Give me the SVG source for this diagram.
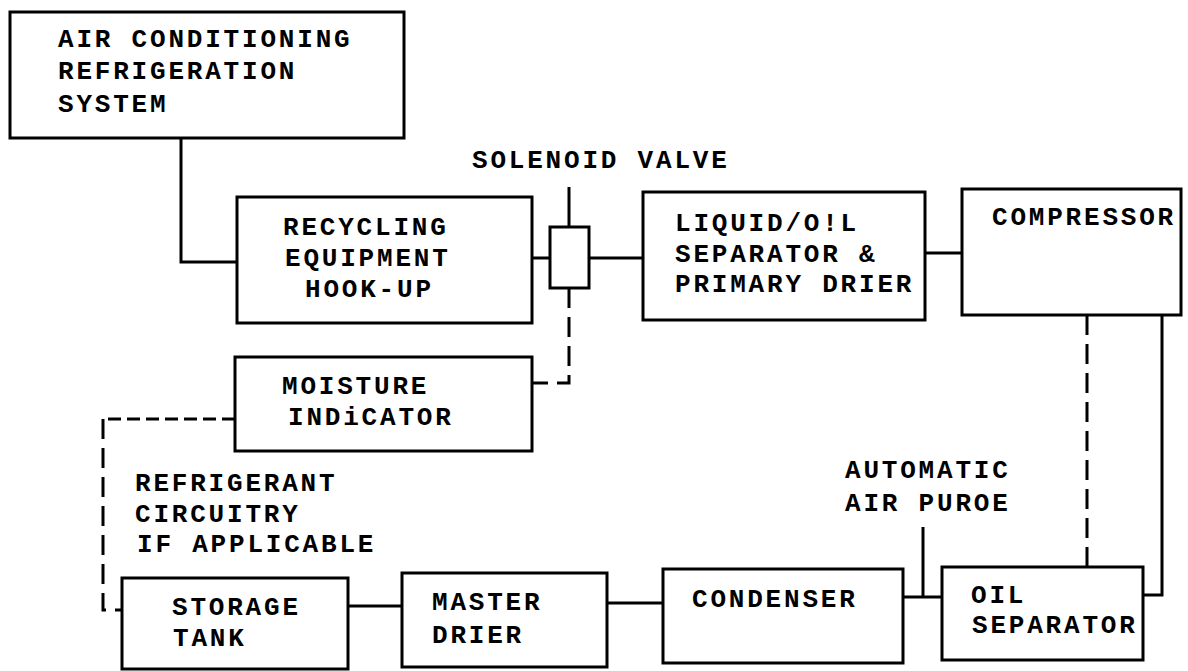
<svg xmlns="http://www.w3.org/2000/svg" width="1188" height="671" viewBox="0 0 1188 671">
<style>
.box{fill:none;stroke:#000;stroke-width:3}
.ln{fill:none;stroke:#000;stroke-width:3}
.dash{fill:none;stroke:#000;stroke-width:3;stroke-dasharray:20 9}
.dashs{fill:none;stroke:#000;stroke-width:3;stroke-dasharray:13 6}
text{font-family:"Liberation Mono","Courier New",monospace;font-weight:bold;font-size:26px;letter-spacing:2.8px;fill:#000}
</style>
<rect width="1188" height="671" fill="#fff"/>
<g id="connectors">
<path class="ln" d="M181 138 V262 H237"/>
<path class="ln" d="M532 258 H550"/>
<path class="ln" d="M589 258 H643"/>
<path class="ln" d="M569 187 V227"/>
<path class="dash" d="M569 288 V383 H532"/>
<path class="ln" d="M925 253 H962"/>
<path class="dashs" d="M235 419 H103"/>
<path class="dash" d="M103 419 V610 H122"/>
<path class="ln" d="M348 606 H402"/>
<path class="ln" d="M607 603 H663"/>
<path class="ln" d="M903 597 H942"/>
<path class="ln" d="M923 527 V597"/>
<path class="dash" d="M1087 315 V567"/>
<path class="ln" d="M1162 315 V595 H1143"/>
</g>
<g id="ac-system">
<rect class="box" x="10" y="12" width="394" height="126"/>
<text x="58" y="47">AIR CONDITIONING</text>
<text x="58" y="79">REFRIGERATION</text>
<text x="58" y="112">SYSTEM</text>
</g>
<g id="recycling">
<rect class="box" x="237" y="197" width="295" height="126"/>
<text x="283" y="235">RECYCLING</text>
<text x="285" y="266">EQUIPMENT</text>
<text x="305" y="297">HOOK-UP</text>
</g>
<g id="solenoid-valve">
<rect class="box" x="550" y="227" width="39" height="61"/>
<text x="472" y="168">SOLENOID VALVE</text>
</g>
<g id="liquid-oil-separator">
<rect class="box" x="643" y="192" width="282" height="128"/>
<text x="675" y="231">LIQUID/O!L</text>
<text x="675" y="262">SEPARATOR &amp;</text>
<text x="675" y="292">PRIMARY DRIER</text>
</g>
<g id="compressor">
<rect class="box" x="962" y="189" width="219" height="126"/>
<text x="992" y="225">COMPRESSOR</text>
</g>
<g id="moisture-indicator">
<rect class="box" x="235" y="357" width="297" height="94"/>
<text x="282" y="394">MOISTURE</text>
<text x="288" y="425">INDiCATOR</text>
</g>
<g id="refrigerant-label">
<text x="135" y="491">REFRIGERANT</text>
<text x="135" y="522">CIRCUITRY</text>
<text x="137" y="552">IF APPLICABLE</text>
</g>
<g id="air-purge">
<text x="845" y="478">AUTOMATIC</text>
<text x="845" y="511">AIR PUROE</text>
</g>
<g id="storage-tank">
<rect class="box" x="122" y="578" width="226" height="91"/>
<text x="172" y="615">STORAGE</text>
<text x="173" y="646">TANK</text>
</g>
<g id="master-drier">
<rect class="box" x="402" y="573" width="205" height="94"/>
<text x="432" y="610">MASTER</text>
<text x="432" y="643">DRIER</text>
</g>
<g id="condenser">
<rect class="box" x="663" y="569" width="240" height="94"/>
<text x="692" y="607">CONDENSER</text>
</g>
<g id="oil-separator">
<rect class="box" x="942" y="567" width="201" height="93"/>
<text x="971" y="603">OIL</text>
<text x="972" y="633">SEPARATOR</text>
</g>
</svg>
